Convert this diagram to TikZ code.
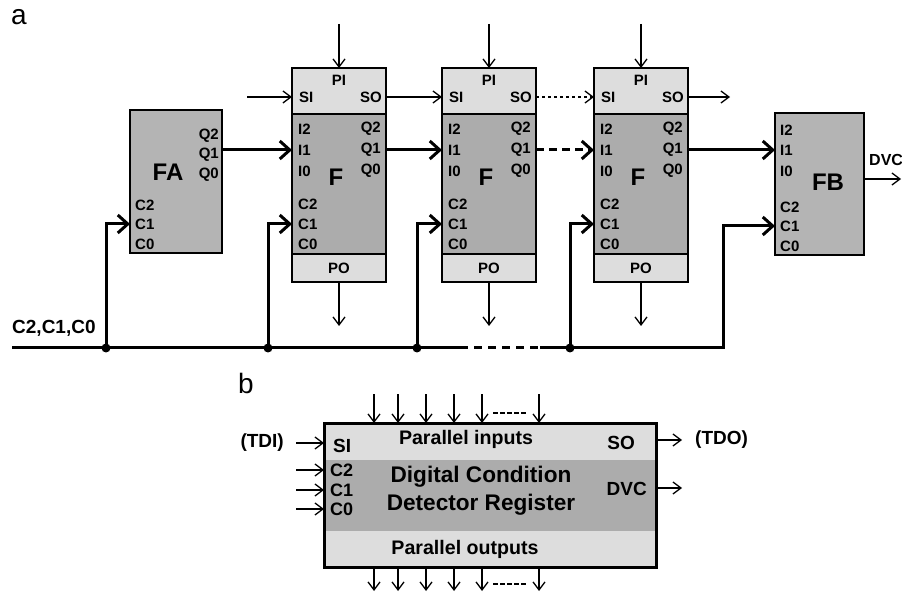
\documentclass[tikz,border=0pt]{standalone}
\usepackage{fontspec}
\setmainfont{Liberation Sans}
\usetikzlibrary{arrows.meta,positioning}
\definecolor{blockdark}{RGB}{172,172,172}
\definecolor{blocklite}{RGB}{221,221,221}

\begin{document}
\begin{tikzpicture}[
  x=1pt, y=-1pt,
  font=\bfseries\fontsize{15}{17}\selectfont,
  lite/.style={draw, line width=1.5pt, fill=blocklite, inner sep=0pt, outer sep=0pt, anchor=north west},
  dark/.style={lite, fill=blockdark},
  port/.style={inner sep=0pt},
  big/.style={inner sep=0pt, font=\bfseries\fontsize{24}{26}\selectfont},
  panel/.style={inner sep=0pt, font=\fontsize{28}{30}\selectfont},
  blabel/.style={inner sep=0pt, font=\bfseries\fontsize{19}{21}\selectfont},
  wire/.style={-{Straight Barb[length=8pt, width=12pt]}, line width=1.3pt},
  bus/.style={-{Straight Barb[length=10pt, width=18pt]}, line width=3pt},
  busline/.style={line width=3pt},
  junction/.style={circle, fill=black, inner sep=0pt, minimum size=9pt}
]
  \useasboundingbox (0,0) rectangle (902,593);

  % (a) chain of cells
  \node[panel] (lbla) at (19,17.5) {a};

  \node[dark, fill=blockdark!90!white, minimum width=92pt, minimum height=143pt] (fa) at (130,110) {};
  \node[big] (fa-lbl) at (168,172) {FA};
  \foreach \k/\y in {2/136,1/155,0/175}
    \node[port, anchor=east] (fa-q\k) at (219,\y) {Q\k};
  \foreach \k/\y in {2/205,1/224,0/244}
    \node[port, anchor=west] (fa-c\k) at (135,\y) {C\k};

  \foreach \n/\x in {1/292,2/442,3/594}{
    \node[lite, minimum width=94pt, minimum height=46pt] (fpi\n) at (\x,68) {};
    \node[dark, minimum width=94pt, minimum height=140pt] (f\n) at (\x,114) {};
    \node[lite, minimum width=94pt, minimum height=28pt] (fpo\n) at (\x,254) {};
    \node[port] (f\n-pi) at (\x+47,80) {PI};
    \node[port, anchor=west] (f\n-si) at (\x+7,97) {SI};
    \node[port, anchor=east] (f\n-so) at (\x+90,97) {SO};
    \foreach \k/\y in {2/129,1/150,0/171}{
      \node[port, anchor=west] (f\n-i\k) at (\x+6,\y) {I\k};
      \node[port, anchor=east] (f\n-q\k) at (\x+89,\y) {Q\k};
    }
    \foreach \k/\y in {2/204,1/224,0/244}
      \node[port, anchor=west] (f\n-c\k) at (\x+6,\y) {C\k};
    \node[big] (f\n-lbl) at (\x+44,177) {F};
    \node[port] (f\n-po) at (\x+47,268) {PO};
    \coordinate (f\n-pitop) at (\x+47,24);
    \coordinate (f\n-pobot) at (\x+47,326);
    \draw[wire] (f\n-pitop) -- (fpi\n.north);
    \draw[wire] (fpo\n.south) -- (f\n-pobot);
  }

  \node[dark, fill=blockdark!90!white, minimum width=89pt, minimum height=142pt] (fb) at (775,113) {};
  \node[big] (fb-lbl) at (828,182) {FB};
  \foreach \k/\y in {2/130,1/150,0/171}
    \node[port, anchor=west] (fb-i\k) at (780,\y) {I\k};
  \foreach \k/\y in {2/207,1/226,0/246}
    \node[port, anchor=west] (fb-c\k) at (780,\y) {C\k};
  \node[port, anchor=west, font=\bfseries\fontsize{16}{18}\selectfont] (fb-dvc) at (869,160) {DVC};
  \coordinate (dvcout) at (901,179);
  \draw[wire] (fb.east |- dvcout) -- (dvcout);

  % scan path
  \coordinate (siin) at (247,97);
  \coordinate (soout) at (730,97);
  \draw[wire] (siin) -- (siin -| fpi1.west);
  \draw[wire] (fpi1.east |- f1-so) -- (fpi2.west |- f2-si);
  \draw[wire, dash pattern=on 3pt off 3pt] (fpi2.east |- f2-so) -- (fpi3.west |- f3-si);
  \draw[wire] (fpi3.east |- f3-so) -- (soout);

  % Q -> I
  \draw[bus] (fa.east |- f1-i1) -- (f1.west |- f1-i1);
  \draw[bus] (f1.east |- f1-q1) -- (f2.west |- f2-i1);
  \draw[bus, dash pattern=on 8pt off 5pt] (f2.east |- f2-q1) -- (f3.west |- f3-i1);
  \draw[bus] (f3.east |- f3-q1) -- (fb.west |- fb-i1);

  % condition bus
  \node[port, anchor=west, font=\bfseries\fontsize{19}{21}\selectfont] (buslbl) at (12,328) {C2,C1,C0};
  \coordinate (busin) at (12,348);
  \coordinate (busgapl) at (460,348);
  \coordinate (busgapr) at (540,348);
  \coordinate (busend) at (723,348);
  \foreach \j/\x in {1/106,2/268,3/417,4/570}
    \node[junction] (j\j) at (\x,348) {};
  \draw[busline] (busin) -- (busgapl);
  \draw[busline, dash pattern=on 8pt off 6pt] (busgapl) -- (busgapr);
  \draw[bus] (busgapr) -- (busend) |- (fb.west |- fb-c1);
  \draw[bus] (j1.center) |- (fa.west |- fa-c1);
  \foreach \n/\j in {1/2,2/3,3/4}
    \draw[bus] (j\j.center) |- (f\n.west |- f\n-c1);

  % (b) register
  \node[panel] (lblb) at (246,383) {b};

  \node[lite, draw=none, minimum width=332pt, minimum height=37pt] (dtop) at (324,423) {};
  \node[dark, draw=none, minimum width=332pt, minimum height=71pt] (dmid) at (324,460) {};
  \node[lite, draw=none, minimum width=332pt, minimum height=36pt] (dbot) at (324,531) {};
  \node[lite, fill=none, line width=3pt, minimum width=332pt, minimum height=144pt] (dcdr) at (324,423) {};

  \node[blabel, font=\bfseries\fontsize{19.6}{21}\selectfont] (parin) at (466,439) {Parallel inputs};
  \node[blabel, font=\bfseries\fontsize{19.6}{21}\selectfont] (parout) at (465,549) {Parallel outputs};
  \node[inner sep=0pt, align=center, font=\bfseries\fontsize{22.6}{28}\selectfont] (dcdrlbl) at (481,491) {Digital Condition\\Detector Register};
  \node[blabel, anchor=west] (dsi) at (333,446) {SI};
  \node[blabel, anchor=east] (dso) at (635,443) {SO};
  \node[blabel, anchor=east] (ddvc) at (647,489) {DVC};

  \coordinate (tdiin) at (296,443);
  \node[blabel, left=12pt of tdiin] (tdi) {(TDI)};
  \draw[wire] (tdiin) -- (dcdr.west |- tdiin);
  \foreach \k/\y in {2/470,1/490,0/509}{
    \node[blabel, anchor=west, font=\bfseries\fontsize{18}{19}\selectfont] (dc\k) at (330,\y) {C\k};
    \coordinate (dcin\k) at (296,\y);
    \draw[wire] (dcin\k) -- (dcdr.west |- dcin\k);
  }

  \coordinate (tdoout) at (682,440);
  \node[blabel, right=13pt of tdoout] (tdo) {(TDO)};
  \draw[wire] (dcdr.east |- tdoout) -- (tdoout);
  \coordinate (dvcbout) at (682,488);
  \draw[wire] (dcdr.east |- dvcbout) -- (dvcbout);

  \foreach \x [count=\k] in {374,398,426,454,482,539}{
    \coordinate (dpi\k) at (\x,394);
    \coordinate (dpo\k) at (\x,591);
    \draw[wire] (dpi\k) -- (dpi\k |- dcdr.north);
    \draw[wire] (dpo\k |- dcdr.south) -- (dpo\k);
  }
  \draw[line width=2.4pt, dash pattern=on 4.5pt off 2.5pt] (493,413) -- (527,413);
  \draw[line width=2.4pt, dash pattern=on 4.5pt off 2.5pt] (493,584) -- (527,584);
\end{tikzpicture}
\end{document}
